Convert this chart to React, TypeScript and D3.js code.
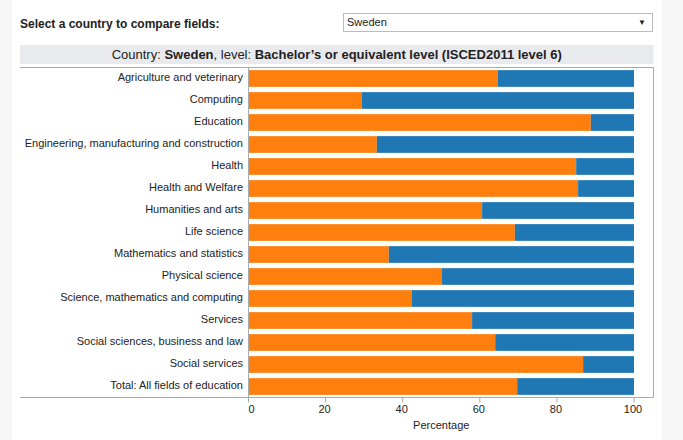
import React from "react";
import * as d3 from "d3";

const categories = [
  "Agriculture and veterinary",
  "Computing",
  "Education",
  "Engineering, manufacturing and construction",
  "Health",
  "Health and Welfare",
  "Humanities and arts",
  "Life science",
  "Mathematics and statistics",
  "Physical science",
  "Science, mathematics and computing",
  "Services",
  "Social sciences, business and law",
  "Social services",
  "Total: All fields of education",
];
const femaleShare = [64.7, 29.4, 88.8, 33.3, 85.0, 85.5, 60.6, 69.1, 36.4, 50.2, 42.4, 58.0, 64.0, 86.8, 69.7];
const xTicks = [0, 20, 40, 60, 80, 100];
const country = "Sweden";
const level = "Bachelor\u2019s or equivalent level (ISCED2011 level 6)";

export default function App() {
  const W = 683, H = 440;
  const x = d3.scaleLinear().domain([0, 100]).range([248.5, 634]);
  const y = d3.scaleBand<string>().domain(categories).range([67.5, 397.5]).paddingInner(0.24).paddingOuter(0.12);
  const font = "'Liberation Sans', Arial, sans-serif";
  const txt = "#222";
  const axis = "#aaa";
  const left = 20, right = 653.5, top = 67.5, bottom = 397.5;
  return (
    <svg width={W} height={H} style={{ position: "absolute", left: 0, top: 0, fontFamily: font }}>
      <rect x={0} y={0} width={W} height={H} fill="#f7f7f7" />
      <rect x={12} y={0} width={650} height={H} fill="#ffffff" />
      <text x={20} y={28} fontSize={12} fontWeight="bold" fill={txt}>Select a country to compare fields:</text>
      <rect x={343.5} y={13.5} width={309} height={18} fill="#fff" stroke="#bbb" />
      <text x={347} y={26} fontSize={11} fill={txt}>{country}</text>
      <text x={642} y={25} fontSize={8} fill={txt} textAnchor="middle">▼</text>
      <rect x={left} y={45} width={right - left} height={19} fill="#e9eaee" />
      <text x={(left + right) / 2} y={59} fontSize={13} fill={txt} textAnchor="middle">
        Country: <tspan fontWeight="bold">{country}</tspan>, level: <tspan fontWeight="bold">{level}</tspan>
      </text>
      {categories.map((c, i) => (
        <g key={c}>
          <rect x={x(0)} y={y(c)} width={x(femaleShare[i]) - x(0)} height={y.bandwidth()} fill="#ff7f0e" />
          <rect x={x(femaleShare[i])} y={y(c)} width={x(100) - x(femaleShare[i])} height={y.bandwidth()} fill="#1f77b4" />
          <text x={243} y={(y(c) as number) + y.bandwidth() / 2 - 1} dy="0.35em" fontSize={11} fill={txt} textAnchor="end">{c}</text>
        </g>
      ))}
      <line x1={left} x2={right} y1={top} y2={top} stroke={axis} />
      <line x1={left} x2={right} y1={bottom} y2={bottom} stroke={axis} />
      <line x1={248.5} x2={248.5} y1={top} y2={bottom} stroke={axis} />
      <line x1={right} x2={right} y1={top} y2={bottom} stroke={axis} />
      {xTicks.map((t) => (
        <g key={t}>
          <line x1={x(t)} x2={x(t)} y1={bottom} y2={bottom + 5} stroke={axis} />
          <text x={x(t) + (t === 0 ? 3 : -1)} y={413} fontSize={11} fill={txt} textAnchor="middle">{t}</text>
        </g>
      ))}
      <text x={(x(0) + x(100)) / 2} y={429} fontSize={11} fill={txt} textAnchor="middle">Percentage</text>
    </svg>
  );
}
